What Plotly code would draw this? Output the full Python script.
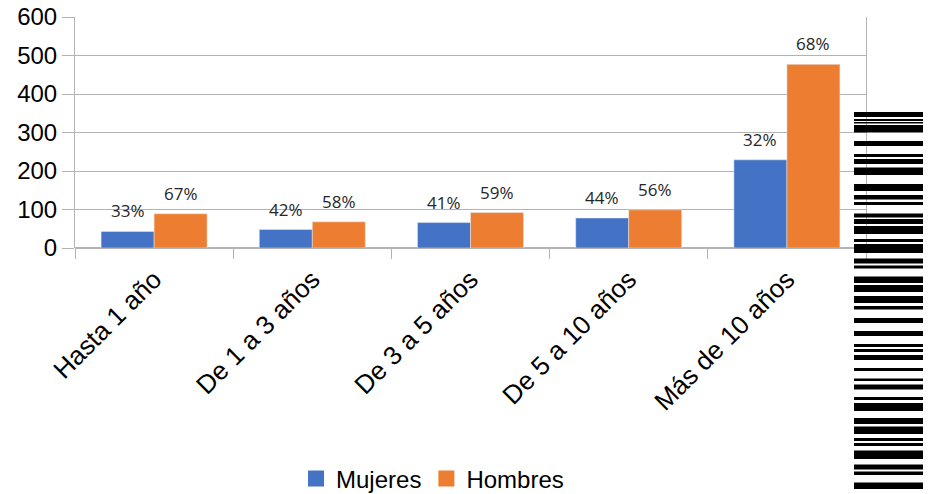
import plotly.graph_objects as go

categories = ["Hasta 1 año", "De 1 a 3 años", "De 3 a 5 años", "De 5 a 10 años", "Más de 10 años"]
mujeres = [43, 48, 66, 78, 229]
hombres = [89, 68, 92, 99, 477]
mujeres_pct = ["33%", "42%", "41%", "44%", "32%"]
hombres_pct = ["67%", "58%", "59%", "56%", "68%"]
y_ticks = [0, 100, 200, 300, 400, 500, 600]

# barcode-like sticker on the right side (page pixel stripes: top, bottom)
barcode_stripes = [
    (112, 117), (119, 121), (122, 123.5), (125, 132.5), (141, 146), (154, 157),
    (159, 164), (167.5, 175), (184, 191), (195, 199.5), (202, 205), (213.5, 217.5),
    (219, 224), (226, 234), (239, 242), (244, 253), (258.5, 263.5), (265.5, 268.5),
    (276.5, 283), (285, 292), (296, 303), (306, 309.5), (318, 323), (331, 336),
    (344, 347), (349, 352), (355, 360), (368, 371), (378.5, 381), (384.5, 389.5),
    (397, 400), (403, 411), (418, 424), (426.5, 434), (438, 441), (443, 446),
    (450.5, 459), (464.5, 469.5), (471.5, 475), (482.5, 489),
]

W, H = 933, 494
L, R, T, B = 75, 67, 17, 246
pw, ph = W - L - R, H - T - B
plot_bottom = T + ph

blue = "#4472C4"
orange = "#ED7D31"
label_font = dict(family="Open Sans", size=17, color="#262626")
BARGAP = 0.33
half = (1 - BARGAP) / 4  # offset of each bar's centre from the category centre

fig = go.Figure()
fig.add_trace(go.Bar(
    name="Mujeres", x=categories, y=mujeres, marker_color=blue, showlegend=False,
))
fig.add_trace(go.Bar(
    name="Hombres", x=categories, y=hombres, marker_color=orange, showlegend=False,
))
# legend entries with larger square keys
for nm, col in (("Mujeres", blue), ("Hombres", orange)):
    fig.add_trace(go.Scatter(
        x=[None], y=[None], mode="markers", name=nm,
        marker=dict(symbol="square", size=16, color=col),
    ))

annotations = []
for i, (vm, vh, pm, ph_) in enumerate(zip(mujeres, hombres, mujeres_pct, hombres_pct)):
    for xpos, val, txt in ((i - half, vm, pm), (i + half, vh, ph_)):
        annotations.append(dict(
            x=xpos, y=val, xref="x", yref="y", text=txt, showarrow=False,
            yanchor="bottom", xanchor="center", yshift=7, font=label_font,
        ))

shapes = []
for top, bot in barcode_stripes:
    shapes.append(dict(
        type="rect", xref="paper", yref="paper",
        x0=(854 - L) / pw, x1=(923 - L) / pw,
        y0=(plot_bottom - bot) / ph, y1=(plot_bottom - top) / ph,
        fillcolor="black", line_width=0, layer="above",
    ))

fig.update_layout(
    width=W, height=H,
    margin=dict(l=L, r=R, t=T, b=B, autoexpand=False),
    paper_bgcolor="white", plot_bgcolor="white",
    barmode="group", bargap=BARGAP, bargroupgap=0,
    font=dict(family="Liberation Sans", size=24, color="black"),
    legend=dict(orientation="h", x=0.452, xanchor="center",
                y=(plot_bottom - 479) / ph, yanchor="middle",
                itemwidth=30,
                font=dict(family="Liberation Sans", size=24, color="black")),
    shapes=shapes,
    annotations=annotations,
)
fig.update_xaxes(
    type="category", tickangle=-45, ticks="outside", tickson="boundaries",
    ticklen=10, tickcolor="#b3b3b3", showline=False, showgrid=False,
    ticklabelstandoff=10, range=[-0.5, len(categories) - 0.5],
    tickfont=dict(family="Liberation Sans", size=26, color="black"),
)
fig.update_yaxes(
    range=[0, 600], tickvals=y_ticks, ticks="outside", ticklen=12, tickcolor="#b3b3b3",
    showgrid=True, gridcolor="#b3b3b3", gridwidth=1, zeroline=True, zerolinecolor="#b3b3b3",
    showline=True, linecolor="#b3b3b3", mirror=True,
    tickfont=dict(family="Liberation Sans", size=24, color="black"),
)

fig.write_html("out.html", config={"displayModeBar": False},
               post_script="document.body.style.margin='0';")
